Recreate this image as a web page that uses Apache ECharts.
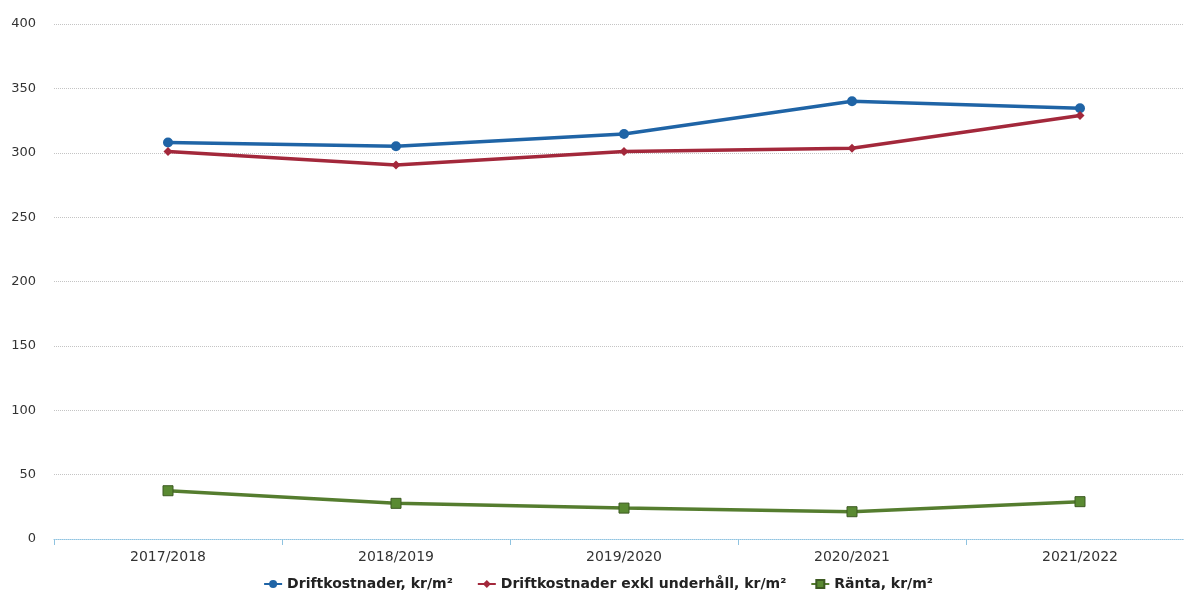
<!DOCTYPE html>
<html><head><meta charset="utf-8">
<script src="https://cdn.jsdelivr.net/npm/echarts@6/dist/echarts.min.js"></script>
<style>html,body{margin:0;padding:0;background:#fff;overflow:hidden;width:1184px;height:608px}#c{width:1196px;height:608px}</style>
</head><body><div id="c"></div>
<script>
const categories = ['2017/2018','2018/2019','2019/2020','2020/2021','2021/2022'];
const drift = [308, 305, 314.5, 340, 334.5];
const driftExkl = [301, 290.5, 301, 303.5, 329];
const ranta = [37.5, 27.7, 24, 21.2, 29];
const yTicks = [0,50,100,150,200,250,300,350,400];

const chart = echarts.init(document.getElementById('c'));
chart.setOption({
  animation:false,
  backgroundColor:'#fff',
  grid:{left:54,right:2,top:24,bottom:69,containLabel:false},
  legend:{
    bottom:12,left:'center',itemWidth:18,itemHeight:10,itemGap:24,
    textStyle:{fontFamily:'DejaVu Sans',fontWeight:'bold',fontSize:14,color:'#222'},
    data:['Driftkostnader, kr/m²','Driftkostnader exkl underhåll, kr/m²','Ränta, kr/m²']
  },
  xAxis:{
    type:'category',data:categories,boundaryGap:true,
    axisLine:{lineStyle:{color:'#8fc3e0',type:'dotted',width:1}},
    axisTick:{show:true,alignWithLabel:false,length:6,lineStyle:{color:'#8fc3e0'}},
    axisLabel:{color:'#333',fontSize:14,fontFamily:'DejaVu Sans',margin:11}
  },
  yAxis:{
    type:'value',min:0,max:400,interval:50,
    axisLine:{show:false},axisTick:{show:false},
    axisLabel:{color:'#333',fontSize:13,fontFamily:'DejaVu Sans',margin:18,
      formatter:v=>yTicks.includes(v)?String(v):''},
    splitLine:{lineStyle:{color:'#c4c4c4',type:'dotted',width:1}}
  },
  series:[
    {name:'Driftkostnader, kr/m²',type:'line',data:drift,symbol:'circle',symbolSize:10,
     lineStyle:{color:'#1f64a6',width:3.5},itemStyle:{color:'#1f64a6'}},
    {name:'Driftkostnader exkl underhåll, kr/m²',type:'line',data:driftExkl,symbol:'diamond',symbolSize:9,
     lineStyle:{color:'#a3283b',width:3.5},itemStyle:{color:'#a3283b'}},
    {name:'Ränta, kr/m²',type:'line',data:ranta,symbol:'rect',symbolSize:10,
     lineStyle:{color:'#557d2f',width:3.5},itemStyle:{color:'#5a8a32',borderColor:'#3d5a22',borderWidth:1}}
  ]
});
</script></body></html>
